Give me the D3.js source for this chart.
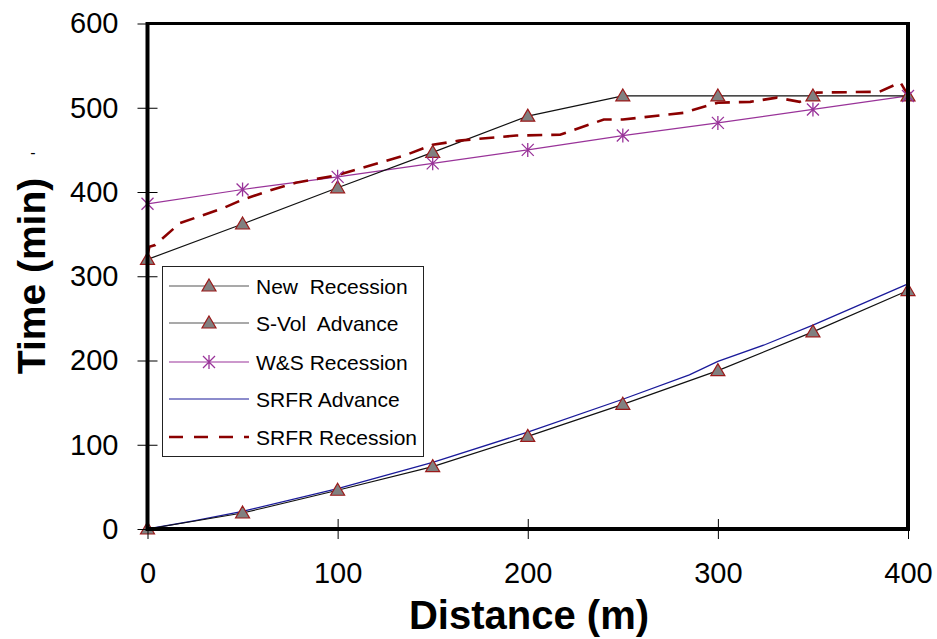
<!DOCTYPE html>
<html><head><meta charset="utf-8">
<script src="https://cdn.jsdelivr.net/npm/d3@7"></script>
<style>body{margin:0;background:#fff}svg{display:block}text{font-family:"Liberation Sans",Arial,sans-serif}</style>
</head><body><svg id="c" width="937" height="639"></svg>
<script>
const distances = [0,50,100,150,200,250,300,350,400];
const newRecession = [320,362,405,447,490,514,514,514,514];
const sVolAdvance = [0,19,46,74,110,148,188,234,283];
const wsRecession = [386,403,418,434,450,467,482,498,514];
const srfrAdvanceX = [0,25,50,100,150,200,250,285,300,325,350,400];
const srfrAdvanceY = [0,10,21,48,79,115,154,183,199,219,242,291];
const srfrRecessionX = [0,1,4,17,40,50,66,78,100,118,136,150,164,194,217,240,250,282,300,317,331,343,352,385,396,400];
const srfrRecessionY = [325,335,337,363,381,391,403,411,420,432,444,456,461,467,468,486,486,494,506,507,512,507,518,519,530,515];
const xTicks = [0,100,200,300,400];
const yTicks = [0,100,200,300,400,500,600];
const legendLabels = ["New  Recession","S-Vol  Advance","W&S Recession","SRFR Advance","SRFR Recession"];

const FONT = "'Liberation Sans', Arial, sans-serif";
const svg = d3.select("#c");
const x = d3.scaleLinear().domain([0,400]).range([147.5,908]);
const y = d3.scaleLinear().domain([0,600]).range([529,23.5]);
const line = d3.line().x(d=>x(d[0])).y(d=>y(d[1]));
const zip = (a,b)=>a.map((v,i)=>[v,b[i]]);

const triColor = "#808080", triStroke = "#9a1a1a", starColor = "#993399";
const triPath = "M0,-7L7,5L-7,5Z";
const starPath = "M0,-7L0,7M-6,-6L6,6M-6,6L6,-6";

const g = svg.append("g");
g.append("path").attr("d", line(zip(distances,wsRecession))).attr("fill","none").attr("stroke",starColor).attr("stroke-width",1.2);
g.append("path").attr("d", line(zip(srfrAdvanceX,srfrAdvanceY))).attr("fill","none").attr("stroke","#1a1a9a").attr("stroke-width",1.3);
g.append("path").attr("d", line(zip(distances,sVolAdvance))).attr("fill","none").attr("stroke","#111").attr("stroke-width",1.2);
g.append("path").attr("d", line(zip(distances,newRecession))).attr("fill","none").attr("stroke","#111").attr("stroke-width",1.2);
g.append("path").attr("d", line(zip(srfrRecessionX,srfrRecessionY))).attr("fill","none").attr("stroke","#8b0000").attr("stroke-width",2.6).attr("stroke-dasharray","15,9");

function tris(data){
  g.selectAll(null).data(data).enter().append("path")
   .attr("d",triPath).attr("transform",d=>`translate(${x(d[0])},${y(d[1])})`)
   .attr("fill",triColor).attr("stroke",triStroke).attr("stroke-width",1.2);
}
tris(zip(distances,sVolAdvance));
tris(zip(distances,newRecession));
g.selectAll(null).data(zip(distances,wsRecession)).enter().append("path")
  .attr("d",starPath).attr("transform",d=>`translate(${x(d[0])},${y(d[1])})`)
  .attr("fill","none").attr("stroke",starColor).attr("stroke-width",1.3);

const yAxis = d3.axisLeft(y).tickValues(yTicks).tickSize(10);
const ya = svg.append("g").attr("transform","translate(147.5,0)").call(yAxis);
ya.select(".domain").remove();
ya.selectAll(".tick line").attr("x2",-10).attr("x1",10).attr("stroke","#000").attr("stroke-width",1);
ya.selectAll(".tick text").attr("x",-29).attr("font-size",29).attr("fill","#000").attr("font-family",FONT);

const xAxis = d3.axisBottom(x).tickValues(xTicks).tickSize(10);
const xa = svg.append("g").attr("transform","translate(0,529)").call(xAxis);
xa.select(".domain").remove();
xa.selectAll(".tick line").attr("y1",-10).attr("y2",10).attr("stroke","#000").attr("stroke-width",1);
xa.selectAll(".tick text").attr("y",54).attr("dy",null).attr("font-size",29).attr("fill","#000").attr("font-family",FONT);

svg.append("path").attr("d",`M${x(0)},${y(600)}L${x(400)},${y(600)}`).attr("stroke","#000").attr("stroke-width",3);
svg.append("path").attr("d",`M${x(0)},${y(600)-1.5}L${x(0)},${y(0)}L${x(400)},${y(0)}L${x(400)},${y(600)-1.5}`).attr("fill","none").attr("stroke","#000").attr("stroke-width",4);

const lg = svg.append("g").attr("transform","translate(162,266)");
lg.append("rect").attr("x",0.5).attr("y",0.5).attr("width",261).attr("height",190).attr("fill","#fff").attr("stroke","#222").attr("stroke-width",1);
const ly = [20,57,96,133,171];
legendLabels.forEach((lab,i)=>{
  const row = lg.append("g").attr("transform",`translate(0,${ly[i]})`);
  const col = i<2 ? "#555" : i===2 ? starColor : i===3 ? "#1a1a9a" : "#8b0000";
  const ln = row.append("line").attr("x1",7).attr("x2",87).attr("stroke",col).attr("stroke-width", i===4?2.4:1.2);
  if(i===4) ln.attr("stroke-dasharray","14,11");
  if(i<2) row.append("path").attr("d",triPath).attr("transform","translate(47,0)").attr("fill",triColor).attr("stroke",triStroke).attr("stroke-width",1.2);
  if(i===2) row.append("path").attr("d",starPath).attr("transform","translate(47,0)").attr("fill","none").attr("stroke",starColor).attr("stroke-width",1.3);
  row.append("text").attr("x",94).attr("y",7.5).attr("font-size",21).attr("fill","#000").style("white-space","pre").text(lab);
});

svg.append("text").attr("x",529).attr("y",629).attr("text-anchor","middle").attr("font-size",40).attr("font-weight","bold").text("Distance (m)");
svg.append("text").attr("transform","translate(45,276) rotate(-90)").attr("text-anchor","middle").attr("font-size",39).attr("font-weight","bold").text("Time (min)");
svg.append("text").attr("x",33).attr("y",158).attr("text-anchor","middle").attr("font-size",16).text("-");
</script></body></html>
